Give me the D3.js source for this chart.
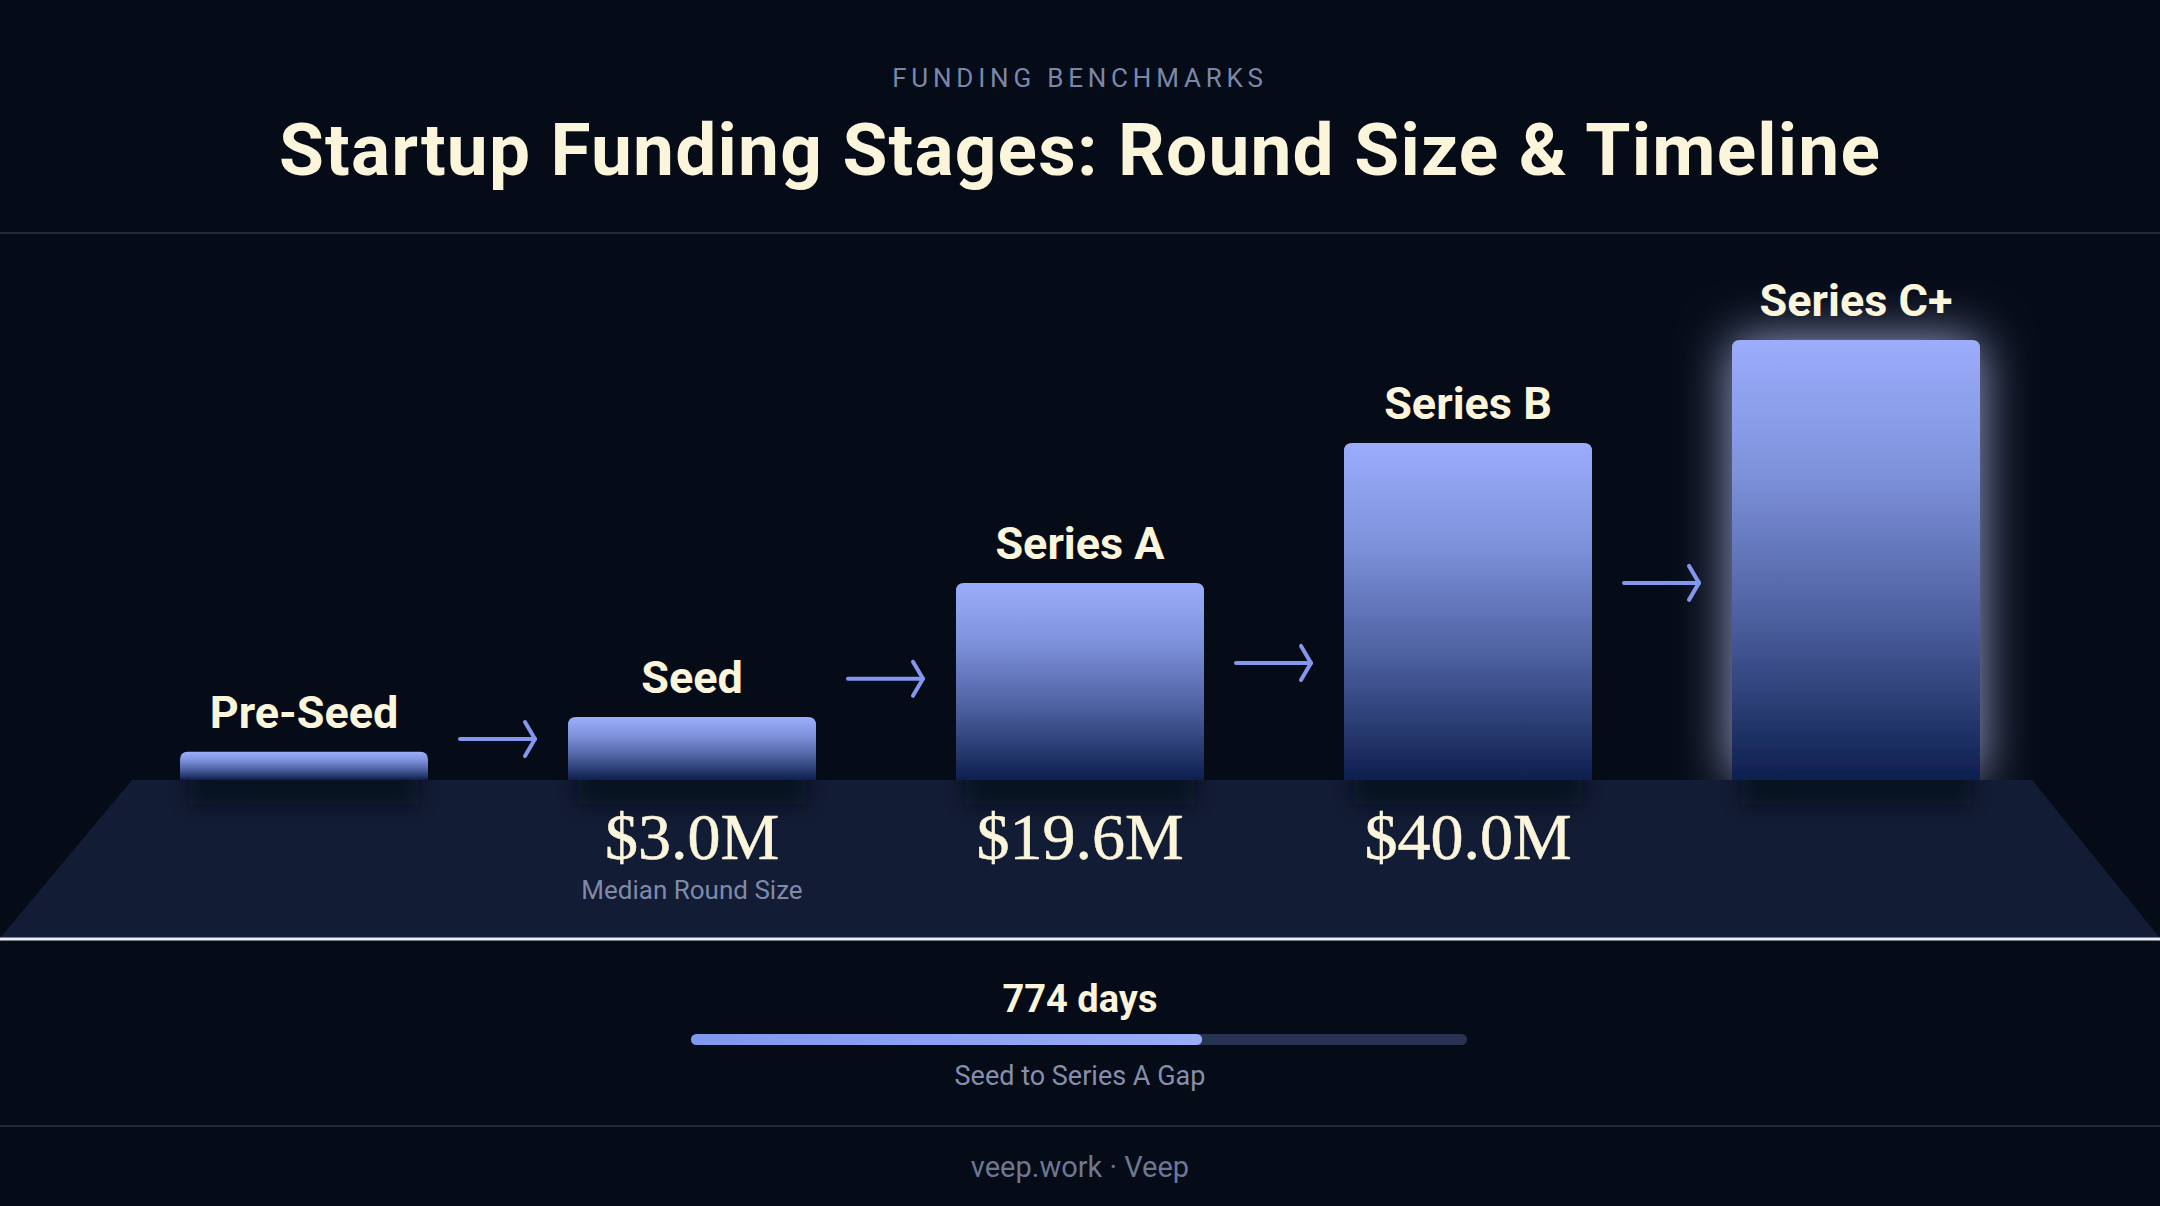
<!DOCTYPE html>
<html>
<head>
<meta charset="utf-8">
<script src="https://cdn.jsdelivr.net/npm/d3@7"></script>
<style>
  html, body { margin: 0; padding: 0; background: #060b18; }
  svg { display: block; }
</style>
</head>
<body>
<svg id="chart" width="2160" height="1206"></svg>
<script>
// ---- data ----
const stages = ["Pre-Seed", "Seed", "Series A", "Series B", "Series C+"];
// relative bar height (% of tallest stage), as drawn
const barLevel = [6.4, 14.3, 44.8, 76.6, 100];
// median round size, $M (shown only where the reference shows it)
const roundSizeM = [null, 3.0, 19.6, 40.0, null];
const roundSizeNote = [null, "Median Round Size", null, null, null];
// arrow heights between consecutive stages, same units as barLevel
const arrowLevel = [9.3, 23.0, 26.6, 44.8];
// timeline
const gapDays = 774;
const gapMaxDays = 1175;
const gapLabel = "Seed to Series A Gap";
const kicker = "FUNDING BENCHMARKS";
const title = "Startup Funding Stages: Round Size & Timeline";
const footer = "veep.work · Veep";

// ---- drawing ----
const W = 2160, H = 1206;
const svg = d3.select("#chart");
const cream = "#fbf5dc";
const sans = "Roboto, 'Open Sans', sans-serif";
const serif = "'Liberation Serif', 'DejaVu Serif', serif";

const defs = svg.append("defs");
const barGrad = defs.append("linearGradient").attr("id", "barGrad")
  .attr("x1", 0).attr("y1", 0).attr("x2", 0).attr("y2", 1);
barGrad.append("stop").attr("offset", "0%").attr("stop-color", "#9badfb");
barGrad.append("stop").attr("offset", "30%").attr("stop-color", "#7e92dc");
barGrad.append("stop").attr("offset", "65%").attr("stop-color", "#4a5d9c");
barGrad.append("stop").attr("offset", "100%").attr("stop-color", "#0d1f4e");

const glow = defs.append("filter").attr("id", "glow")
  .attr("x", "-50%").attr("y", "-35%").attr("width", "200%").attr("height", "170%");
glow.append("feGaussianBlur").attr("in", "SourceGraphic").attr("stdDeviation", 26).attr("result", "b");
glow.append("feColorMatrix").attr("in", "b").attr("type", "matrix")
  .attr("values", "0 0 0 0 0.55  0 0 0 0 0.63  0 0 0 0 1  0 0 0 0.8 0").attr("result", "c");
const gm = glow.append("feMerge");
gm.append("feMergeNode").attr("in", "c");
gm.append("feMergeNode").attr("in", "SourceGraphic");

const shadowBlur = defs.append("filter").attr("id", "shadowBlur")
  .attr("x", "-20%").attr("y", "-100%").attr("width", "140%").attr("height", "300%");
shadowBlur.append("feGaussianBlur").attr("stdDeviation", 10);

const fillGrad = defs.append("linearGradient").attr("id", "fillGrad")
  .attr("x1", 0).attr("y1", 0).attr("x2", 1).attr("y2", 0);
fillGrad.append("stop").attr("offset", "0%").attr("stop-color", "#8097ee");
fillGrad.append("stop").attr("offset", "100%").attr("stop-color", "#99acf8");

// background
svg.append("rect").attr("width", W).attr("height", H).attr("fill", "#060b18");

// header
svg.append("text").attr("x", W / 2).attr("y", 87).attr("text-anchor", "middle")
  .attr("font-family", sans).attr("font-size", 26).attr("letter-spacing", 4.8)
  .attr("fill", "#7b87a8").text(kicker);
svg.append("text").attr("x", W / 2).attr("y", 175).attr("text-anchor", "middle")
  .attr("font-family", sans).attr("font-weight", 700).attr("font-size", 73)
  .attr("letter-spacing", 1.2)
  .attr("fill", cream).text(title);
svg.append("line").attr("x1", 0).attr("x2", W).attr("y1", 233).attr("y2", 233)
  .attr("stroke", "#232a3a").attr("stroke-width", 2);

// scales
const x = d3.scaleBand().domain(stages).range([110, 2050])
  .paddingInner(0.3608).paddingOuter(0.1804);
const y = d3.scaleLinear().domain([0, 100]).range([780, 340]);
const floorY = y(0);

// bars (drawn before the floor so the glow stops at the floor edge)
const r = 8;
function barPath(x0, x1, top, bottom) {
  return `M${x0},${bottom} L${x0},${top + r} Q${x0},${top} ${x0 + r},${top} ` +
    `L${x1 - r},${top} Q${x1},${top} ${x1},${top + r} L${x1},${bottom} Z`;
}
svg.append("g").selectAll("path").data(stages).join("path")
  .attr("d", (d, i) => barPath(x(d), x(d) + x.bandwidth(), y(barLevel[i]), floorY))
  .attr("fill", "url(#barGrad)")
  .attr("filter", (d, i) => i === stages.length - 1 ? "url(#glow)" : null);

// floor
const floorBottom = 938;
const floorD = `M132,${floorY} L2032,${floorY} L${W},${floorBottom} L0,${floorBottom} Z`;
svg.append("path").attr("d", floorD).attr("fill", "#121c34");
svg.append("line").attr("x1", 0).attr("x2", W).attr("y1", floorBottom + 1).attr("y2", floorBottom + 1)
  .attr("stroke", "#e9edf6").attr("stroke-width", 3);

// bar shadows on floor
const floorClip = defs.append("clipPath").attr("id", "floorClip");
floorClip.append("path").attr("d", floorD);
svg.append("g").attr("clip-path", "url(#floorClip)")
  .selectAll("rect").data(stages).join("rect")
  .attr("x", d => x(d) + 10).attr("width", x.bandwidth() - 20)
  .attr("y", floorY - 12).attr("height", 36)
  .attr("fill", "#050a16").attr("opacity", 0.7)
  .attr("filter", "url(#shadowBlur)");

// stage labels
svg.append("g").selectAll("text").data(stages).join("text")
  .attr("x", d => x(d) + x.bandwidth() / 2)
  .attr("y", (d, i) => y(barLevel[i]) - 24)
  .attr("text-anchor", "middle")
  .attr("font-family", sans).attr("font-weight", 700).attr("font-size", 45)
  .attr("fill", cream).text(d => d);

// arrows
const arrowColor = "#8397ee";
const ag = svg.append("g").attr("stroke", arrowColor).attr("stroke-width", 4)
  .attr("fill", "none").attr("stroke-linecap", "round").attr("stroke-linejoin", "round");
arrowLevel.forEach((lv, i) => {
  const xa = x(stages[i]) + x.bandwidth() + 32;
  const xb = x(stages[i + 1]) - 33;
  const ya = y(lv);
  ag.append("line").attr("x1", xa).attr("x2", xb).attr("y1", ya).attr("y2", ya);
  ag.append("path").attr("d", `M${xb - 10},${ya - 17} L${xb},${ya} L${xb - 10},${ya + 17}`);
});

// value labels
const fmt = d3.format("$.1f");
svg.append("g").selectAll("text").data(stages.filter((d, i) => roundSizeM[i] != null)).join("text")
  .attr("x", d => x(d) + x.bandwidth() / 2).attr("y", 859)
  .attr("text-anchor", "middle").attr("font-family", serif).attr("font-size", 66)
  .attr("fill", cream).attr("stroke", cream).attr("stroke-width", 0.6)
  .text(d => fmt(roundSizeM[stages.indexOf(d)]) + "M");
svg.append("g").selectAll("text").data(stages.filter((d, i) => roundSizeNote[i] != null)).join("text")
  .attr("x", d => x(d) + x.bandwidth() / 2).attr("y", 899)
  .attr("text-anchor", "middle").attr("font-family", sans).attr("font-size", 26)
  .attr("fill", "#7f8aa8").text(d => roundSizeNote[stages.indexOf(d)]);

// timeline
const t = d3.scaleLinear().domain([0, gapMaxDays]).range([691, 1467]);
svg.append("text").attr("x", W / 2).attr("y", 1012).attr("text-anchor", "middle")
  .attr("font-family", sans).attr("font-weight", 700).attr("font-size", 38)
  .attr("fill", cream).text(`${gapDays} days`);
svg.append("rect").attr("x", t(0)).attr("width", t(gapMaxDays) - t(0))
  .attr("y", 1034).attr("height", 11).attr("rx", 5.5).attr("fill", "#283353");
svg.append("rect").attr("x", t(0)).attr("width", t(gapDays) - t(0))
  .attr("y", 1034).attr("height", 11).attr("rx", 5.5).attr("fill", "url(#fillGrad)");
svg.append("text").attr("x", W / 2).attr("y", 1085).attr("text-anchor", "middle")
  .attr("font-family", sans).attr("font-size", 27)
  .attr("fill", "#858fab").text(gapLabel);

svg.append("line").attr("x1", 0).attr("x2", W).attr("y1", 1126).attr("y2", 1126)
  .attr("stroke", "#222938").attr("stroke-width", 2);
svg.append("text").attr("x", W / 2).attr("y", 1177).attr("text-anchor", "middle")
  .attr("font-family", sans).attr("font-size", 29)
  .attr("fill", "#6d7792").text(footer);
</script>
</body>
</html>
